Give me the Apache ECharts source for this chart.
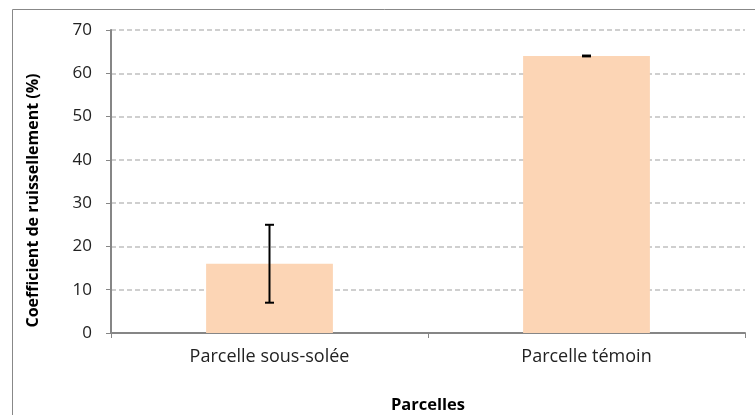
<!DOCTYPE html>
<html>
<head>
<meta charset="utf-8">
<script src="https://cdn.jsdelivr.net/npm/echarts@6/dist/echarts.min.js"></script>
<style>
  html, body { margin: 0; padding: 0; background: #fff; }
  #chart { width: 755px; height: 415px; }
</style>
</head>
<body>
<div id="chart"></div>
<script>
var categories = ['Parcelle sous-solée', 'Parcelle témoin'];
var values = [16, 64];
var errLow = [7, 63.9];
var errHigh = [25, 64.1];
var yTicks = [0, 10, 20, 30, 40, 50, 60, 70];

var chartDom = document.getElementById('chart');
var myChart = echarts.init(chartDom);
var font = '"Open Sans", "Noto Sans", sans-serif';

var errData = categories.map(function (c, i) {
  return [i, errLow[i], errHigh[i]];
});

var option = {
  animation: false,
  graphic: [{
    type: 'rect',
    shape: { x: 12.5, y: 9.5, width: 760, height: 420 },
    style: { fill: 'none', stroke: '#888888', lineWidth: 1 }
  }],
  grid: { left: 111, right: 10, top: 30, bottom: 82, outerBoundsMode: 'none' },
  xAxis: {
    type: 'category',
    data: categories,
    name: 'Parcelles',
    nameLocation: 'middle',
    nameGap: 64,
    nameTextStyle: { fontFamily: font, fontWeight: 'bold', fontSize: 16.5, color: '#000' },
    axisLine: { lineStyle: { color: '#868686', width: 2 } },
    axisTick: { show: true, length: 5, lineStyle: { color: '#868686' } },
    axisLabel: { fontFamily: font, fontSize: 18, color: '#222', margin: 15 }
  },
  yAxis: {
    type: 'value',
    min: 0,
    max: yTicks[yTicks.length - 1],
    interval: 10,
    name: 'Coefficient de ruissellement (%)',
    nameLocation: 'middle',
    nameGap: 70,
    nameTextStyle: { fontFamily: font, fontWeight: 'bold', fontSize: 16, color: '#000', padding: [0, 38, 0, 0] },
    axisLine: { show: true, lineStyle: { color: '#868686', width: 2 } },
    axisTick: { show: true, length: 5, lineStyle: { color: '#868686' } },
    axisLabel: { fontFamily: font, fontSize: 17, color: '#222', margin: 19 },
    splitLine: { lineStyle: { color: '#c0c0c0', type: [5, 3], width: 1.5 } }
  },
  series: [
    {
      type: 'bar',
      data: values,
      barWidth: '40%',
      itemStyle: { color: '#fcd5b5' }
    },
    {
      type: 'custom',
      data: errData,
      z: 10,
      renderItem: function (params, api) {
        var x = api.value(0);
        var lo = api.coord([x, api.value(1)]);
        var hi = api.coord([x, api.value(2)]);
        var half = 4.5;
        var style = { stroke: '#000', lineWidth: 2 };
        return {
          type: 'group',
          children: [
            { type: 'line', shape: { x1: lo[0], y1: lo[1], x2: hi[0], y2: hi[1] }, style: style },
            { type: 'line', shape: { x1: lo[0] - half, y1: lo[1], x2: lo[0] + half, y2: lo[1] }, style: style },
            { type: 'line', shape: { x1: hi[0] - half, y1: hi[1], x2: hi[0] + half, y2: hi[1] }, style: style }
          ]
        };
      }
    }
  ]
};

myChart.setOption(option);
</script>
</body>
</html>
